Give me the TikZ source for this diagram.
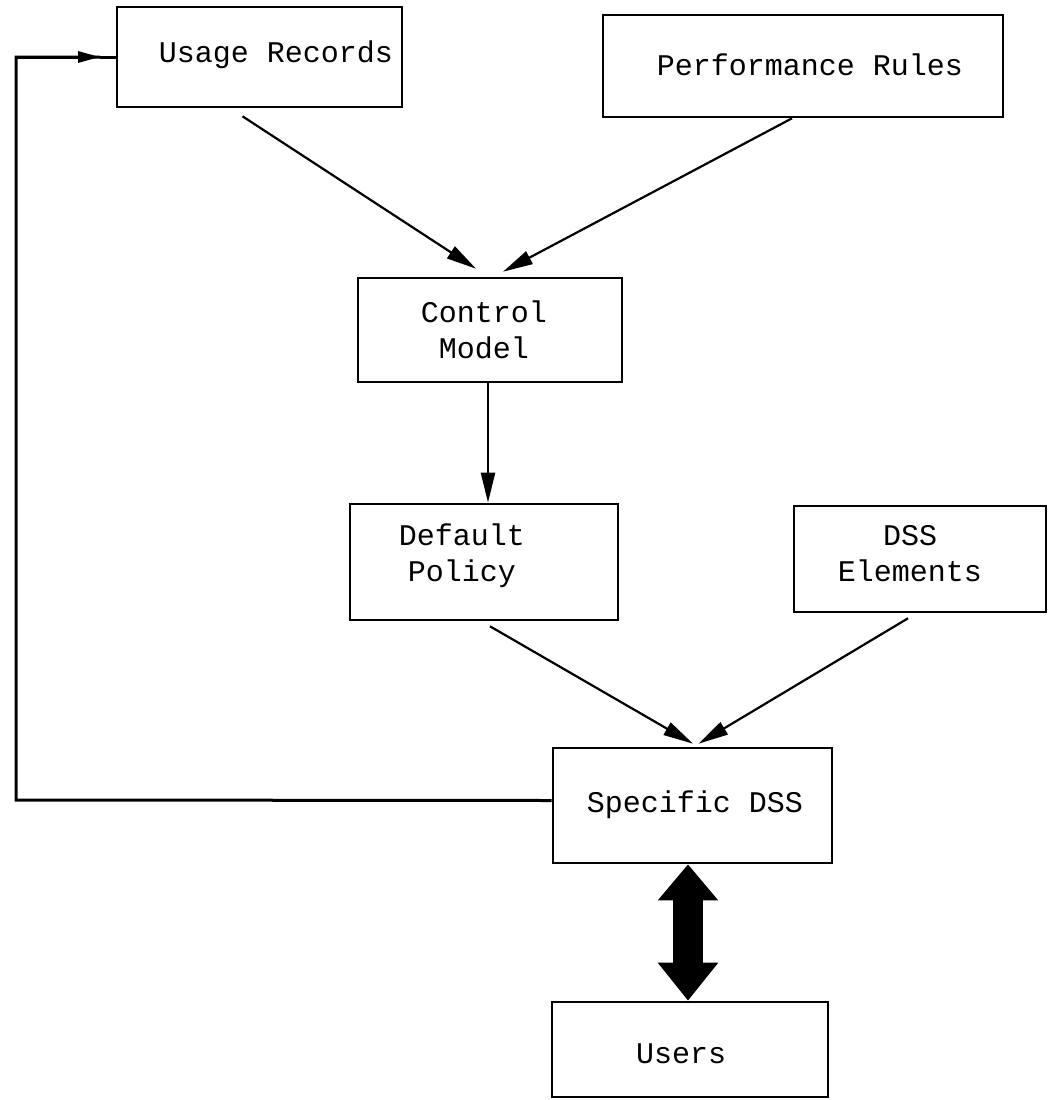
\documentclass[tikz,border=0pt]{standalone}
\usepackage{fontspec}
\setmonofont{Liberation Mono}
\usetikzlibrary{arrows.meta,calc}
\begin{document}
\begin{tikzpicture}[x=1pt,y=-1pt,
  box/.style={draw, line width=2.6pt, inner sep=0pt, rectangle},
  lbl/.style={font=\fontsize{30}{36}\selectfont\ttfamily, align=center, inner sep=0pt, anchor=base},
  arr/.style={line width=2.2pt, -{Triangle[length=30pt,width=14pt]}},
  fb/.style={line width=3pt},
  fbarr/.style={line width=3pt, -{Triangle[length=22pt,width=11pt]}},
  big/.style={line width=30pt, {Triangle[length=36pt,width=58pt]}-{Triangle[length=38pt,width=58pt]}}
]
\useasboundingbox (0,0) rectangle (1049,1100);
\fill[white] (0,0) rectangle (1049,1100);

% boxes
\node[box, minimum width=285pt, minimum height=100pt] (ur) at (259.5,57) {};
\node[lbl] (urt) at (276,62) {Usage Records};

\node[box, minimum width=400pt, minimum height=102pt] (pr) at (803,66) {};
\node[lbl] (prt) at (810,75) {Performance Rules};

\node[box, minimum width=264pt, minimum height=104pt] (cm) at (490,330) {};
\node[lbl] (cmt) at (484,358) {Control\\Model};

\node[box, minimum width=268pt, minimum height=116pt] (dp) at (484,562) {};
\node[lbl] (dpt) at (462,581) {Default\\Policy};

\node[box, minimum width=252pt, minimum height=106pt] (de) at (920,559) {};
\node[lbl] (det) at (910,581) {DSS\\Elements};

\node[box, minimum width=279pt, minimum height=115pt] (sd) at (692.5,805.5) {};
\node[lbl] (sdt) at (695,812) {Specific DSS};

\node[box, minimum width=276pt, minimum height=95pt] (us) at (690,1049.5) {};
\node[lbl] (ust) at (681,1063) {Users};

% arrows into Control Model
\draw[arr] ($(ur.south)+(-17,8)$) -- ($(cm.north)+(-14,-8)$);
\draw[arr] ($(pr.south)+(-11,0)$) -- ($(cm.north)+(13,-5)$);

% Control Model -> Default Policy
\draw[arr] ($(cm.south)+(-2,0)$) -- ($(dp.north)+(4,0)$);

% into Specific DSS
\draw[arr] ($(dp.south)+(6,5)$) -- ($(sd.north)+(0.5,-3)$);
\draw[arr] ($(de.south)+(-12,5)$) -- ($(sd.north)+(6,-3)$);

% double arrow Specific DSS <-> Users
\draw[big] ($(sd.south)+(-4.5,0)$) -- ($(us.north)+(-2,0)$);

% feedback loop
\coordinate (fb1) at (16,800);
\coordinate (fb2) at (16,57);
\coordinate (fbm) at (100,57);
\draw[fb, line join=miter] ($(sd.west)+(0,-5)$) -- (fb1) -- (fb2) -- (fbm);
\draw[fbarr] (fb2) -- (fbm);
\draw[fb] (fbm) -- (ur.west);
\end{tikzpicture}
\end{document}
